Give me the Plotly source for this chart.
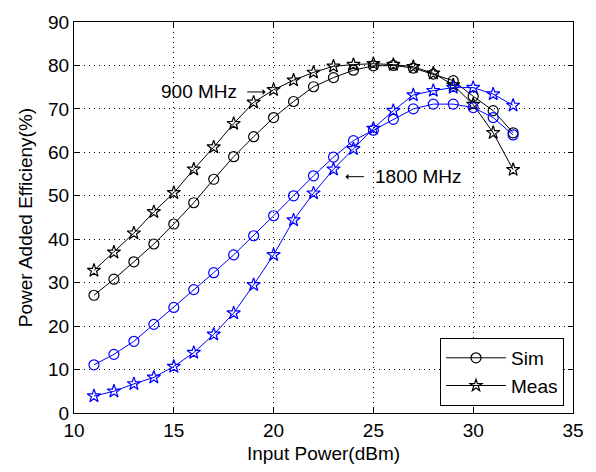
import plotly.graph_objects as go

input_power = [11, 12, 13, 14, 15, 16, 17, 18, 19, 20, 21, 22, 23, 24, 25, 26, 27, 28, 29, 30, 31, 32]
sim_900 = [27.1, 30.8, 34.8, 38.9, 43.5, 48.4, 53.8, 59.0, 63.6, 68.0, 71.7, 75.1, 77.2, 78.9, 79.9, 80.0, 79.4, 78.0, 76.5, 72.9, 69.6, 64.5]
meas_900 = [32.8, 37.0, 41.4, 46.3, 50.7, 56.1, 61.2, 66.6, 71.5, 74.4, 76.6, 78.4, 79.8, 80.2, 80.4, 80.2, 79.7, 78.2, 75.5, 71.0, 64.5, 56.0]
sim_1800 = [11.1, 13.5, 16.5, 20.4, 24.3, 28.4, 32.3, 36.4, 40.8, 45.4, 50.0, 54.6, 58.9, 62.7, 65.1, 67.6, 70.0, 71.1, 71.1, 70.3, 68.0, 64.0]
meas_1800 = [3.9, 5.0, 6.7, 8.2, 10.7, 13.9, 18.1, 23.0, 29.5, 36.4, 44.4, 50.6, 56.1, 60.8, 65.5, 69.6, 73.2, 74.2, 74.9, 74.9, 73.4, 70.8]
x_ticks = [10, 15, 20, 25, 30, 35]
y_ticks = [0, 10, 20, 30, 40, 50, 60, 70, 80, 90]

BLACK = "#000000"
BLUE = "#0000ff"
FONT = "Liberation Sans, Arial, sans-serif"

fig = go.Figure()

def add(y, color, symbol, size, name, show):
    fig.add_trace(go.Scatter(
        x=input_power, y=y, mode="lines+markers", name=name, showlegend=show,
        line=dict(color=color, width=1),
        marker=dict(symbol=symbol, size=size, color=color,
                    line=dict(color=color, width=1.2)),
    ))

add(sim_900, BLACK, "circle-open", 10, "Sim", False)
add(meas_900, BLACK, "star-open", 10, "Meas", False)
add(sim_1800, BLUE, "circle-open", 10, "Sim", False)
add(meas_1800, BLUE, "star-open", 10, "Meas", False)

# legend-only entries in black
for name, sym, sz in [("Sim", "circle-open", 10), ("Meas", "star-open", 9)]:
    fig.add_trace(go.Scatter(
        x=[None], y=[None], mode="lines+markers", name=name,
        line=dict(color=BLACK, width=1),
        marker=dict(symbol=sym, size=sz, color=BLACK, line=dict(color=BLACK, width=1.2)),
    ))

# text labels
fig.add_annotation(x=18.25, y=73.9, xref="x", yref="y", text="900 MHz",
                   showarrow=False, xanchor="right", yanchor="middle",
                   font=dict(family=FONT, size=19, color=BLACK))
fig.add_annotation(x=25.0, y=54.4, xref="x", yref="y", text="1800 MHz",
                   showarrow=False, xanchor="left", yanchor="middle",
                   font=dict(family=FONT, size=19, color=BLACK))
# arrows
fig.add_annotation(x=19.6, y=73.9, ax=18.6, ay=73.9, xref="x", yref="y", axref="x", ayref="y",
                   text="", showarrow=True, arrowhead=1, arrowsize=1, arrowwidth=1, arrowcolor=BLACK)
fig.add_annotation(x=23.6, y=54.4, ax=24.6, ay=54.4, xref="x", yref="y", axref="x", ayref="y",
                   text="", showarrow=True, arrowhead=1, arrowsize=1, arrowwidth=1, arrowcolor=BLACK)

axis_common = dict(
    showline=True, linecolor=BLACK, linewidth=1, mirror="ticks",
    ticks="inside", ticklen=5, tickcolor=BLACK, tickwidth=1,
    showgrid=True, gridcolor="#000000", gridwidth=1, griddash="1px,4px",
    zeroline=False,
    tickfont=dict(family=FONT, size=19, color=BLACK),
)

fig.update_xaxes(range=[10, 35], tickvals=x_ticks, ticktext=[str(v) for v in x_ticks],
                 title=dict(text="Input Power(dBm)", font=dict(family=FONT, size=19, color=BLACK), standoff=6),
                 **axis_common)
fig.update_yaxes(range=[0, 90], tickvals=y_ticks, ticktext=[str(v) for v in y_ticks],
                 title=dict(text="Power Added Efficieny(%)", font=dict(family=FONT, size=19, color=BLACK), standoff=10),
                 **axis_common)

fig.update_layout(
    width=596, height=472,
    margin=dict(l=74, r=18, t=16, b=59),
    paper_bgcolor="white", plot_bgcolor="white",
    font=dict(family=FONT, size=19, color=BLACK),
    legend=dict(x=0.982, y=0.018, xanchor="right", yanchor="bottom",
                bgcolor="white", bordercolor=BLACK, borderwidth=1,
                font=dict(family=FONT, size=19, color=BLACK),
                itemwidth=60, tracegroupgap=0),
    showlegend=True,
)

fig.write_html("out.html")
